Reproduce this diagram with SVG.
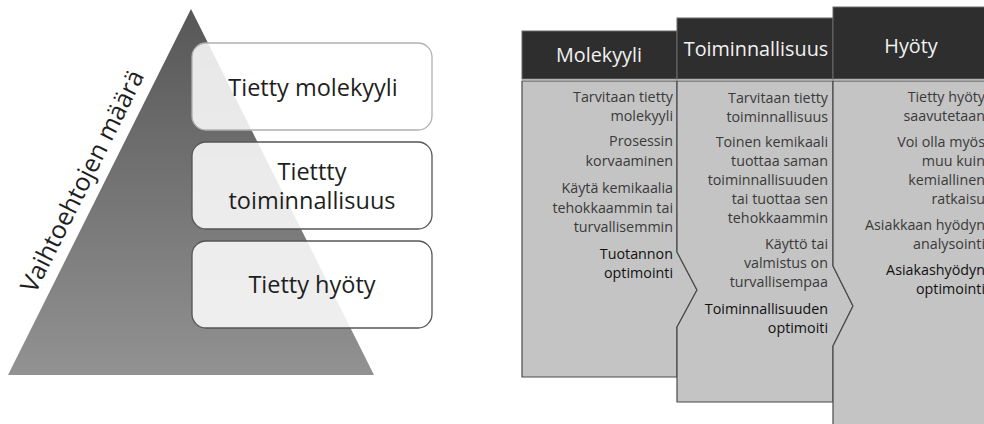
<svg xmlns="http://www.w3.org/2000/svg" width="984" height="424" viewBox="0 0 984 424">
<defs>
<linearGradient id="pyr" x1="0" y1="0" x2="0" y2="1">
<stop offset="0" stop-color="#575757"/>
<stop offset="1" stop-color="#929292"/>
</linearGradient>
<style>
.box{fill:#ffffff;fill-opacity:0.86;stroke-width:1.3}
.bt{font-family:"Open Sans","Noto Sans",sans-serif;font-size:23.5px;fill:#1e1e1e;text-anchor:middle}
.hdr{fill:#2e2e2e;stroke:#6a6a6a;stroke-width:1}
.ht{font-family:"Open Sans","Noto Sans",sans-serif;font-size:19.8px;fill:#f2f2f2;text-anchor:middle}
.body{fill:#c4c4c4;stroke:#4a4a4a;stroke-width:1.2;stroke-linejoin:round}
.t{font-family:"Open Sans","Noto Sans",sans-serif;font-size:14.3px;fill:#3a3a3a;text-anchor:end}
.e{fill:#111111}
</style>
</defs>
<rect width="984" height="424" fill="#ffffff"/>

<g id="pyramid">
<polygon points="191,9 374,375 8,375" fill="url(#pyr)"/>
<text transform="translate(90,185) rotate(-63.4)" font-family="'Open Sans','Noto Sans',sans-serif" font-size="25" fill="#1e1e1e" text-anchor="middle">Vaihtoehtojen määrä</text>
</g>

<g id="box-molekyyli">
<rect class="box" x="192" y="43" width="240" height="87" rx="14" stroke="#b0b0b0"/>
<text class="bt" x="313" y="96">Tietty molekyyli</text>
</g>
<g id="box-toiminnallisuus">
<rect class="box" x="192" y="142" width="240" height="87" rx="14" stroke="#555555"/>
<text class="bt" x="312" y="180">Tiettty</text>
<text class="bt" x="312" y="209">toiminnallisuus</text>
</g>
<g id="box-hyoty">
<rect class="box" x="192" y="241" width="240" height="87" rx="14" stroke="#555555"/>
<text class="bt" x="312" y="293">Tietty hyöty</text>
</g>

<g id="col-molekyyli">
<path class="body" d="M522,81 H677 V252 L697,290 L677,327 V377 H522 Z"/>
<rect class="hdr" x="522" y="31" width="155" height="48"/>
<text class="ht" x="599" y="62">Molekyyli</text>
<text class="t" x="673" y="102">Tarvitaan tietty</text>
<text class="t" x="673" y="121">molekyyli</text>
<text class="t" x="673" y="146">Prosessin</text>
<text class="t" x="673" y="166">korvaaminen</text>
<text class="t" x="673" y="193">Käytä kemikaalia</text>
<text class="t" x="673" y="213">tehokkaammin tai</text>
<text class="t" x="673" y="232">turvallisemmin</text>
<text class="t e" x="673" y="259">Tuotannon</text>
<text class="t e" x="673" y="278">optimointi</text>
</g>

<g id="col-toiminnallisuus">
<path class="body" d="M677,81 H833 V266 L853,306 L833,346 V402 H677 V327 L697,290 L677,252 Z"/>
<rect class="hdr" x="677" y="18" width="156" height="61"/>
<text class="ht" x="756" y="56">Toiminnallisuus</text>
<text class="t" x="828" y="103">Tarvitaan tietty</text>
<text class="t" x="828" y="122">toiminnallisuus</text>
<text class="t" x="828" y="147">Toinen kemikaali</text>
<text class="t" x="828" y="166">tuottaa saman</text>
<text class="t" x="828" y="185">toiminnallisuuden</text>
<text class="t" x="828" y="204">tai tuottaa sen</text>
<text class="t" x="828" y="223">tehokkaammin</text>
<text class="t" x="828" y="249">Käyttö tai</text>
<text class="t" x="828" y="268">valmistus on</text>
<text class="t" x="828" y="287">turvallisempaa</text>
<text class="t e" x="828" y="314">Toiminnallisuuden</text>
<text class="t e" x="828" y="333">optimoiti</text>
</g>

<g id="col-hyoty">
<path class="body" d="M833,81 H992 V430 H833 V346 L853,306 L833,266 Z"/>
<rect class="hdr" x="833" y="7" width="159" height="72"/>
<text class="ht" x="911" y="53">Hyöty</text>
<text class="t" x="985" y="102">Tietty hyöty</text>
<text class="t" x="985" y="121">saavutetaan</text>
<text class="t" x="985" y="147">Voi olla myös</text>
<text class="t" x="985" y="166">muu kuin</text>
<text class="t" x="985" y="185">kemiallinen</text>
<text class="t" x="985" y="204">ratkaisu</text>
<text class="t" x="985" y="230">Asiakkaan hyödyn</text>
<text class="t" x="985" y="249">analysointi</text>
<text class="t e" x="985" y="275">Asiakashyödyn</text>
<text class="t e" x="985" y="294">optimointi</text>
</g>

<g id="connectors"></g>
</svg>
